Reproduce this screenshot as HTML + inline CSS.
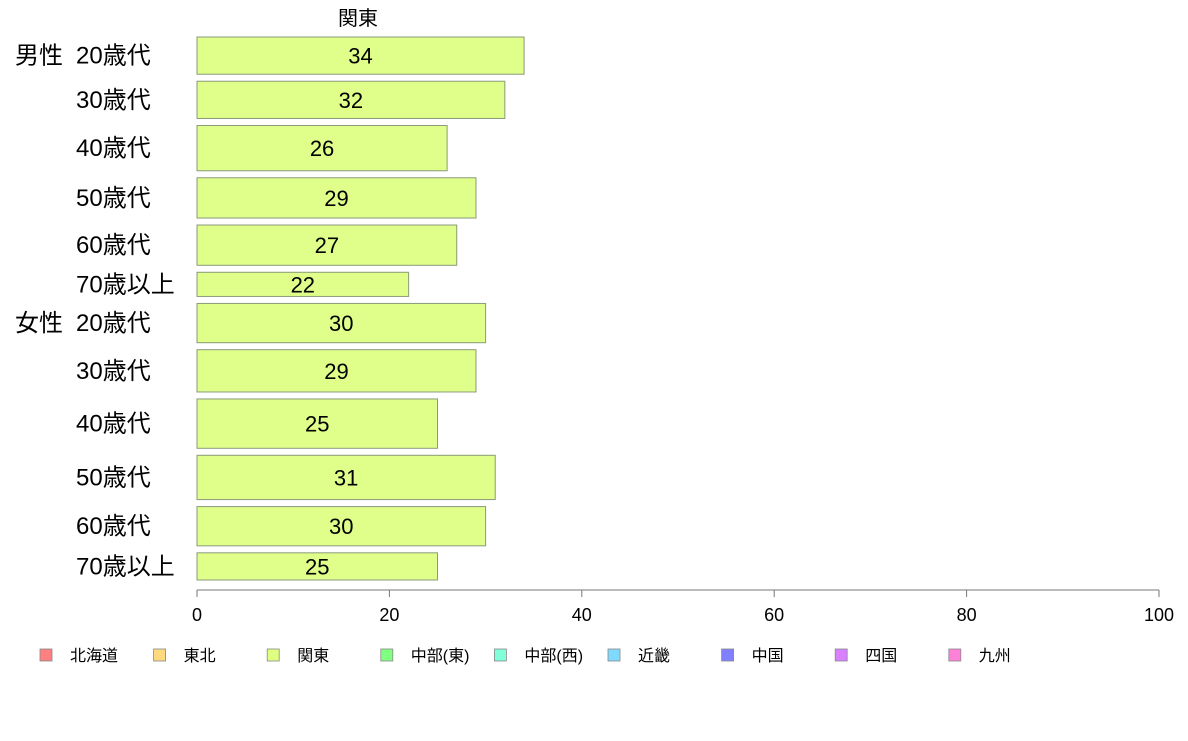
<!DOCTYPE html>
<html><head><meta charset="utf-8">
<style>
html,body{margin:0;padding:0;background:#fff;}
svg text{font-family:"Liberation Sans","Noto Sans CJK JP",sans-serif;}
</style></head>
<body>
<svg id="chart" width="1188" height="736" xmlns="http://www.w3.org/2000/svg">
<text x="358" y="25" font-size="20" text-anchor="middle">関東</text>
<g id="bars"></g>
<g id="axis"></g>
<g id="legend"></g>
</svg>
<script>
const groups = ["男性","","","","","","女性","","","","",""];
const categories = ["20歳代","30歳代","40歳代","50歳代","60歳代","70歳以上","20歳代","30歳代","40歳代","50歳代","60歳代","70歳以上"];
const values = [34,32,26,29,27,22,30,29,25,31,30,25];
const weights = [37,37,45,40,40,24,39,42,49,44,39,27];
const ticks = [0,20,40,60,80,100];
const legendNames = ["北海道","東北","関東","中部(東)","中部(西)","近畿","中国","四国","九州"];
const legendColors = ["#ff8080","#ffd980","#dfff80","#80ff80","#80ffd9","#80d9ff","#8080ff","#d980ff","#ff80d9"];

const NS = "http://www.w3.org/2000/svg";
const axX0 = 197, axX1 = 1159, yTop = 37, yBottom = 580, barGap = 7;
const xs = v => axX0 + (v / 100) * (axX1 - axX0);
const totalW = weights.reduce((a, b) => a + b, 0);
const unitH = (yBottom - yTop - barGap * (weights.length - 1)) / totalW;
function mk(tag, attrs, parent) {
  const e = document.createElementNS(NS, tag);
  for (const k in attrs) e.setAttribute(k, attrs[k]);
  parent.appendChild(e);
  return e;
}
const barsG = document.getElementById("bars");
let cy = yTop;
values.forEach((v, i) => {
  const h = weights[i] * unitH;
  const r = mk("rect", {x: xs(0), y: cy, width: xs(v) - xs(0), height: h, fill: "#dfff8a", stroke: "#8a9a7a", "stroke-width": 1}, barsG);
  
  
  const t = mk("text", {x: xs(v / 2), y: cy + h / 2 + 8, "font-size": 22, "text-anchor": "middle"}, barsG);
  t.textContent = v;
  
  
  const c = mk("text", {x: 76, y: cy + h / 2 + 8, "font-size": 24}, barsG);
  c.textContent = categories[i];
  
  
  if (groups[i]) {
    const g = mk("text", {x: 15, y: cy + h / 2 + 8, "font-size": 24}, barsG);
    g.textContent = groups[i];
    
    
  }
  cy += h + barGap;
});
const axG = document.getElementById("axis");
const al = mk("line", {x1: xs(0), x2: xs(100), y1: 590, y2: 590, stroke: "#777", "stroke-width": 1}, axG);


ticks.forEach(t => {
  const l = mk("line", {x1: xs(t), x2: xs(t), y1: 590, y2: 597, stroke: "#777"}, axG);
  
  
  const tx = mk("text", {x: xs(t), y: 621, "font-size": 18, "text-anchor": "middle"}, axG);
  tx.textContent = t;
  
  
});
const lg = document.getElementById("legend");
legendNames.forEach((n, i) => {
  const lx = 40 + i * 113.6;
  const r = mk("rect", {x: lx, y: 649, width: 12, height: 12, fill: legendColors[i], stroke: "#888", "stroke-width": 0.8}, lg);
  
  
  const t = mk("text", {x: lx + 30, y: 661, "font-size": 16}, lg);
  t.textContent = n;
  
  
});
</script>
</body></html>
